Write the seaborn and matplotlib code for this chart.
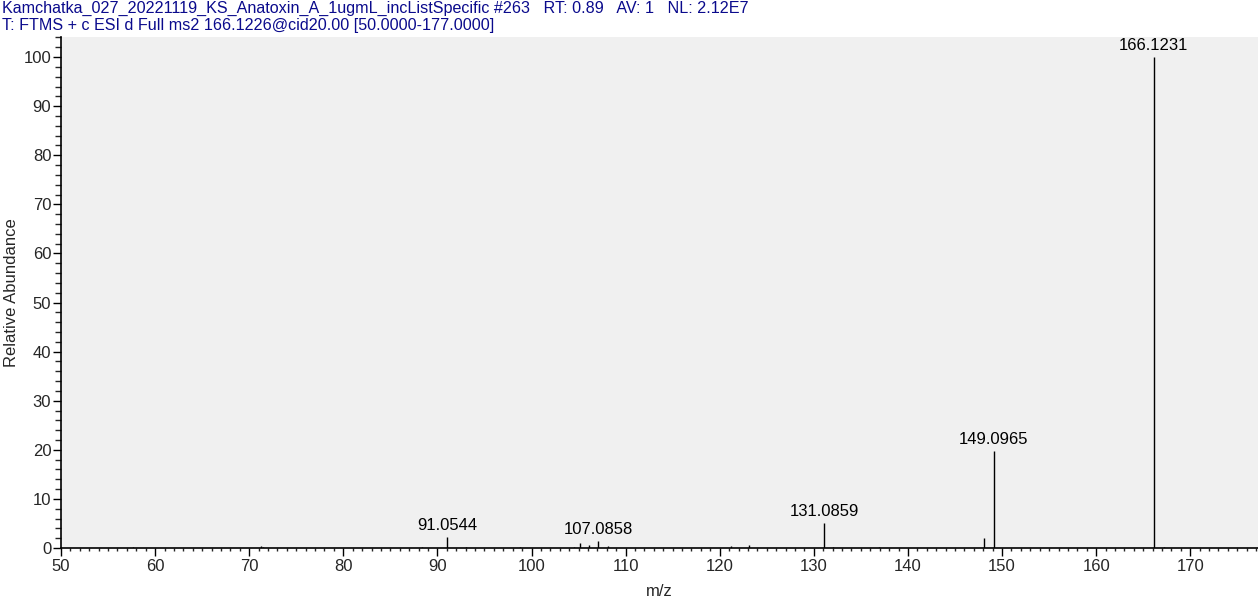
import matplotlib
matplotlib.use("Agg")
import matplotlib.pyplot as plt
from matplotlib.ticker import MultipleLocator
import seaborn as sns
import pandas as pd

# ---- data ----
mz = [57.7, 71.2, 71.5, 88.4, 91.0544, 93.0, 98.8, 104.5, 105.1, 106.06,
      107.0858, 108.1, 121.2, 123.1, 131.0859, 132.0, 136.9, 148.08,
      149.0965, 166.1231, 167.2]
intensity = [0.3, 0.4, 0.3, 0.3, 2.3, 0.3, 0.3, 0.3, 1.0, 0.6,
             1.4, 0.5, 0.5, 0.6, 5.1, 0.3, 0.3, 2.0,
             19.8, 100.0, 0.3]
labeled = [91.0544, 107.0858, 131.0859, 149.0965, 166.1231]
title_lines = ["Kamchatka_027_20221119_KS_Anatoxin_A_1ugmL_incListSpecific #263   RT: 0.89   AV: 1   NL: 2.12E7",
               "T: FTMS + c ESI d Full ms2 166.1226@cid20.00 [50.0000-177.0000]"]
df = pd.DataFrame({"mz": mz, "intensity": intensity})

sns.set_style("ticks")
plt.rcParams["font.family"] = ["Liberation Sans", "DejaVu Sans"]

fig = plt.figure(figsize=(12.58, 6.03), dpi=100)
ax = fig.add_axes([61/1258, 1 - 548/603, 1 - 61/1258, (548 - 37)/603])
ax.set_facecolor("#f0f0f0")

ax.vlines(df["mz"], 0, df["intensity"], color="black", linewidth=1.0)
for m, h in zip(mz, intensity):
    if m in labeled:
        ax.annotate(f"{m:.4f}", (m, h), xytext=(0, 3), textcoords="offset points",
                    ha="center", va="bottom", fontsize=12, color="black")

ax.set_xlim(50, 177.2)
ax.set_ylim(0, 104.1)
ax.xaxis.set_major_locator(MultipleLocator(10))
ax.xaxis.set_minor_locator(MultipleLocator(1))
ax.yaxis.set_major_locator(MultipleLocator(10))
ax.yaxis.set_minor_locator(MultipleLocator(2))
ax.tick_params(axis="both", which="major", labelsize=12, length=6, width=1, color="black")
ax.tick_params(axis="y", which="minor", length=4, width=1)
ax.tick_params(axis="x", which="minor", length=2.5, width=1)
ax.tick_params(axis="x", which="major", pad=2)
ax.tick_params(axis="y", which="major", pad=1)

sns.despine(ax=ax, top=True, right=True)
for s in ("left", "bottom"):
    ax.spines[s].set_color("black")
    ax.spines[s].set_linewidth(1.2)

ax.set_xlabel("m/z", fontsize=12, labelpad=7)
ax.set_ylabel("Relative Abundance", fontsize=12, labelpad=3)

fig.text(2/1258, 1 - 1/603, title_lines[0], ha="left", va="top", fontsize=11.6, color="#0a0a8c")
fig.text(2/1258, 1 - 18/603, title_lines[1], ha="left", va="top", fontsize=11.6, color="#0a0a8c")

fig.savefig("out.png", dpi=100)
